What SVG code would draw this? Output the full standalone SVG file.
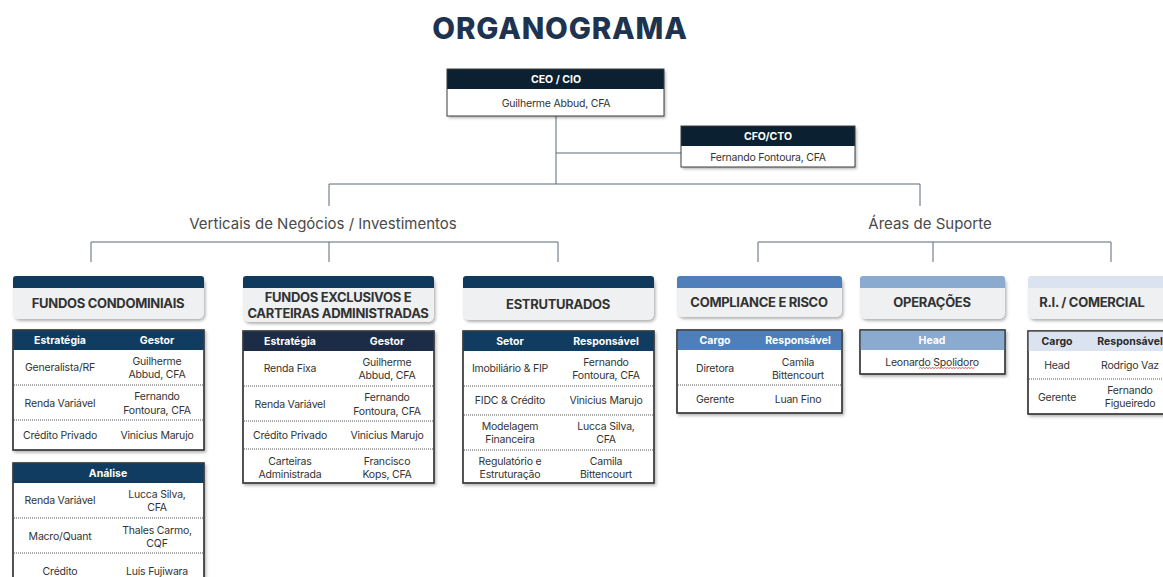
<svg xmlns="http://www.w3.org/2000/svg" width="1163" height="577" viewBox="0 0 1163 577">
<style>
text{font-family:Inter,"Liberation Sans",sans-serif;}
.title{font-size:29.5px;font-weight:800;fill:#1e3350;text-anchor:middle;letter-spacing:0.8px;}
.sec{font-size:15px;fill:#4a4a4a;text-anchor:middle;}
.hd{font-size:10.5px;font-weight:700;fill:#ffffff;text-anchor:middle;dominant-baseline:central;}
.hdd{font-size:10.5px;font-weight:700;fill:#2a2a2a;text-anchor:middle;dominant-baseline:central;}
.t{font-size:10.5px;fill:#333333;text-anchor:middle;dominant-baseline:central;letter-spacing:-0.2px;}
.cat{font-size:13px;font-weight:700;fill:#333333;text-anchor:middle;dominant-baseline:central;letter-spacing:-0.3px;}
.ln{stroke:#5b6878;stroke-width:1;fill:none;}
.box{fill:#ffffff;stroke:#3d3d3d;stroke-width:1.3;}
.dot{stroke:#555;stroke-width:1;stroke-dasharray:1 1;}
.card{fill:#eef0f2;}
</style>
<defs>
<filter id="sh" x="-10%" y="-20%" width="130%" height="150%">
<feDropShadow dx="1.5" dy="2" stdDeviation="1.5" flood-color="#000" flood-opacity="0.3"/>
</filter>
</defs>
<rect width="1163" height="577" fill="#ffffff"/>
<text class="title" x="560" y="39">ORGANOGRAMA</text>

<g id="connectors">
<path class="ln" d="M556 116V184M556 153H681M329 206V184H920V206"/>
<path class="ln" d="M91 262V242H558V262M329 242V262"/>
<path class="ln" d="M758 262V242H1111V262M933 242V262"/>
</g>

<text class="sec" x="323" y="229">Verticais de Negócios / Investimentos</text>
<text class="sec" x="930" y="229">Áreas de Suporte</text>

<g id="ceo">
<rect x="447" y="69" width="217" height="47" fill="#fff" filter="url(#sh)"/>
<rect x="447" y="69" width="217" height="20" fill="#0b2131"/>
<rect x="447" y="69" width="217" height="47" fill="none" stroke="#3d3d3d" stroke-width="1"/>
<text class="hd" x="556" y="79.5">CEO / CIO</text>
<text class="t" x="556" y="103">Guilherme Abbud, CFA</text>
</g>

<g id="cfo">
<rect x="681" y="126" width="174" height="41" fill="#fff" filter="url(#sh)"/>
<rect x="681" y="126" width="174" height="20" fill="#0b2131"/>
<rect x="681" y="126" width="174" height="41" fill="none" stroke="#3d3d3d" stroke-width="1"/>
<text class="hd" x="768" y="136">CFO/CTO</text>
<text class="t" x="768" y="157">Fernando Fontoura, CFA</text>
</g>

<!-- FUNDOS CONDOMINIAIS -->
<g id="cat-condominiais">
<rect class="card" x="13" y="276" width="191" height="43" rx="6" filter="url(#sh)"/>
<path d="M13 288V279a3 3 0 0 1 3-3H201a3 3 0 0 1 3 3V288Z" fill="#0f3a5e"/>
<text class="cat" x="108" y="303">FUNDOS CONDOMINIAIS</text>
</g>
<g id="tbl-condominiais">
<rect class="box" x="13" y="330" width="191" height="120" filter="url(#sh)"/>
<rect x="13" y="330" width="191" height="20" fill="#0f3c60"/>
<rect x="13" y="330" width="191" height="120" fill="none" stroke="#3d3d3d" stroke-width="1.3"/>
<text class="hd" x="60" y="340">Estratégia</text>
<text class="hd" x="157" y="340">Gestor</text>
<line class="dot" x1="14" y1="385" x2="203" y2="385"/>
<line class="dot" x1="14" y1="420" x2="203" y2="420"/>
<text class="t" x="60" y="367">Generalista/RF</text>
<text class="t" x="157" y="361">Guilherme</text>
<text class="t" x="157" y="374">Abbud, CFA</text>
<text class="t" x="60" y="403">Renda Variável</text>
<text class="t" x="157" y="396">Fernando</text>
<text class="t" x="157" y="410">Fontoura, CFA</text>
<text class="t" x="60" y="435">Crédito Privado</text>
<text class="t" x="157" y="435">Vinicius Marujo</text>
</g>
<g id="tbl-analise">
<rect class="box" x="13" y="463" width="191" height="130" filter="url(#sh)"/>
<rect x="13" y="463" width="191" height="20" fill="#0f3c60"/>
<rect x="13" y="463" width="191" height="130" fill="none" stroke="#3d3d3d" stroke-width="1.3"/>
<text class="hd" x="108" y="473">Análise</text>
<line class="dot" x1="14" y1="518" x2="203" y2="518"/>
<line class="dot" x1="14" y1="553" x2="203" y2="553"/>
<text class="t" x="60" y="500">Renda Variável</text>
<text class="t" x="157" y="494">Lucca Silva,</text>
<text class="t" x="157" y="507">CFA</text>
<text class="t" x="60" y="536">Macro/Quant</text>
<text class="t" x="157" y="530">Thales Carmo,</text>
<text class="t" x="157" y="543">CQF</text>
<text class="t" x="60" y="571">Crédito</text>
<text class="t" x="157" y="571">Luís Fujiwara</text>
</g>

<!-- FUNDOS EXCLUSIVOS -->
<g id="cat-exclusivos">
<rect class="card" x="243" y="276" width="191" height="46" rx="6" filter="url(#sh)"/>
<path d="M243 288V279a3 3 0 0 1 3-3H431a3 3 0 0 1 3 3V288Z" fill="#0f3a5e"/>
<text class="cat" x="338" y="297">FUNDOS EXCLUSIVOS E</text>
<text class="cat" x="338" y="313">CARTEIRAS ADMINISTRADAS</text>
</g>
<g id="tbl-exclusivos">
<rect class="box" x="243" y="331" width="191" height="152" filter="url(#sh)"/>
<rect x="243" y="331" width="191" height="20" fill="#1c2c47"/>
<rect x="243" y="331" width="191" height="152" fill="none" stroke="#3d3d3d" stroke-width="1.3"/>
<text class="hd" x="290" y="341">Estratégia</text>
<text class="hd" x="387" y="341">Gestor</text>
<line class="dot" x1="244" y1="386" x2="433" y2="386"/>
<line class="dot" x1="244" y1="421" x2="433" y2="421"/>
<line class="dot" x1="244" y1="449" x2="433" y2="449"/>
<text class="t" x="290" y="368">Renda Fixa</text>
<text class="t" x="387" y="362">Guilherme</text>
<text class="t" x="387" y="375">Abbud, CFA</text>
<text class="t" x="290" y="404">Renda Variável</text>
<text class="t" x="387" y="397">Fernando</text>
<text class="t" x="387" y="411">Fontoura, CFA</text>
<text class="t" x="290" y="435">Crédito Privado</text>
<text class="t" x="387" y="435">Vinicius Marujo</text>
<text class="t" x="290" y="461">Carteiras</text>
<text class="t" x="290" y="474">Administrada</text>
<text class="t" x="387" y="461">Francisco</text>
<text class="t" x="387" y="474">Kops, CFA</text>
</g>

<!-- ESTRUTURADOS -->
<g id="cat-estruturados">
<rect class="card" x="463" y="276" width="191" height="44" rx="6" filter="url(#sh)"/>
<path d="M463 288V279a3 3 0 0 1 3-3H651a3 3 0 0 1 3 3V288Z" fill="#0f3a5e"/>
<text class="cat" x="558" y="304">ESTRUTURADOS</text>
</g>
<g id="tbl-estruturados">
<rect class="box" x="463" y="331" width="191" height="152" filter="url(#sh)"/>
<rect x="463" y="331" width="191" height="20" fill="#0f3c60"/>
<rect x="463" y="331" width="191" height="152" fill="none" stroke="#3d3d3d" stroke-width="1.3"/>
<text class="hd" x="510" y="341">Setor</text>
<text class="hd" x="606" y="341">Responsável</text>
<line class="dot" x1="464" y1="386" x2="653" y2="386"/>
<line class="dot" x1="464" y1="415" x2="653" y2="415"/>
<line class="dot" x1="464" y1="450" x2="653" y2="450"/>
<text class="t" x="510" y="368">Imobiliário &amp; FIP</text>
<text class="t" x="606" y="362">Fernando</text>
<text class="t" x="606" y="375">Fontoura, CFA</text>
<text class="t" x="510" y="400">FIDC &amp; Crédito</text>
<text class="t" x="606" y="400">Vinicius Marujo</text>
<text class="t" x="510" y="426">Modelagem</text>
<text class="t" x="510" y="439">Financeira</text>
<text class="t" x="606" y="426">Lucca Silva,</text>
<text class="t" x="606" y="439">CFA</text>
<text class="t" x="510" y="461">Regulatório e</text>
<text class="t" x="510" y="474">Estruturação</text>
<text class="t" x="606" y="461">Camila</text>
<text class="t" x="606" y="474">Bittencourt</text>
</g>

<!-- COMPLIANCE -->
<g id="cat-compliance">
<rect class="card" x="677" y="276" width="165" height="41" rx="6" filter="url(#sh)"/>
<path d="M677 288V279a3 3 0 0 1 3-3H839a3 3 0 0 1 3 3V288Z" fill="#4e7fbb"/>
<text class="cat" x="759" y="302">COMPLIANCE E RISCO</text>
</g>
<g id="tbl-compliance">
<rect class="box" x="677" y="330" width="165" height="83" filter="url(#sh)"/>
<rect x="677" y="330" width="165" height="20" fill="#4e7fbb"/>
<rect x="677" y="330" width="165" height="83" fill="none" stroke="#3d3d3d" stroke-width="1.3"/>
<text class="hd" x="715" y="340">Cargo</text>
<text class="hd" x="798" y="340">Responsável</text>
<line class="dot" x1="678" y1="385" x2="841" y2="385"/>
<text class="t" x="715" y="368">Diretora</text>
<text class="t" x="798" y="362">Camila</text>
<text class="t" x="798" y="375">Bittencourt</text>
<text class="t" x="715" y="399">Gerente</text>
<text class="t" x="798" y="399">Luan Fino</text>
</g>

<!-- OPERACOES -->
<g id="cat-operacoes">
<rect class="card" x="860" y="276" width="145" height="43" rx="6" filter="url(#sh)"/>
<path d="M860 288V279a3 3 0 0 1 3-3H1002a3 3 0 0 1 3 3V288Z" fill="#8aaad0"/>
<text class="cat" x="932" y="302">OPERAÇÕES</text>
</g>
<g id="tbl-operacoes">
<rect class="box" x="860" y="330" width="145" height="44" filter="url(#sh)"/>
<rect x="860" y="330" width="145" height="20" fill="#8aaad0"/>
<rect x="860" y="330" width="145" height="44" fill="none" stroke="#3d3d3d" stroke-width="1.3"/>
<text class="hd" x="932" y="340">Head</text>
<text class="t" x="932" y="362">Leonardo Spolidoro</text>
<path d="M919 368.5l1.5-1 1.5 1 1.5-1 1.5 1 1.5-1 1.5 1 1.5-1 1.5 1 1.5-1 1.5 1 1.5-1 1.5 1 1.5-1 1.5 1 1.5-1 1.5 1 1.5-1 1.5 1 1.5-1 1.5 1 1.5-1 1.5 1 1.5-1 1.5 1 1.5-1 1.5 1 1.5-1 1.5 1 1.5-1 1.5 1 1.5-1 1.5 1 1.5-1 1.5 1 1.5-1 1.5 1 1.5-1" fill="none" stroke="#d33" stroke-width="0.8"/>
</g>

<!-- RI / COMERCIAL -->
<g id="cat-ri">
<rect class="card" x="1028" y="276" width="150" height="43" rx="6" filter="url(#sh)"/>
<path d="M1028 288V279a3 3 0 0 1 3-3H1175a3 3 0 0 1 3 3V288Z" fill="#dae3ef"/>
<text class="cat" x="1092" y="302">R.I. / COMERCIAL</text>
</g>
<g id="tbl-ri">
<rect class="box" x="1028" y="331" width="150" height="83" filter="url(#sh)"/>
<rect x="1028" y="331" width="150" height="20" fill="#dae3ef"/>
<rect x="1028" y="331" width="150" height="83" fill="none" stroke="#3d3d3d" stroke-width="1.3"/>
<text class="hdd" x="1057" y="341">Cargo</text>
<text class="hdd" x="1130" y="341">Responsável</text>
<line class="dot" x1="1029" y1="379" x2="1177" y2="379"/>
<text class="t" x="1057" y="365">Head</text>
<text class="t" x="1130" y="365">Rodrigo Vaz</text>
<text class="t" x="1057" y="397">Gerente</text>
<text class="t" x="1130" y="390">Fernando</text>
<text class="t" x="1130" y="403">Figueiredo</text>
</g>
</svg>
